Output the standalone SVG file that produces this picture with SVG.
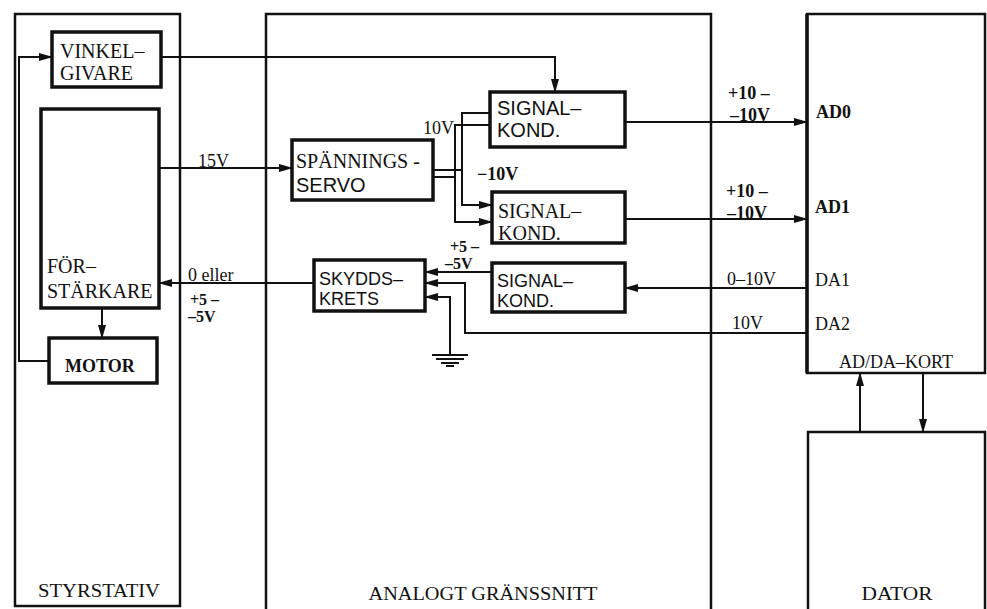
<svg xmlns="http://www.w3.org/2000/svg" width="987" height="609" viewBox="0 0 987 609">
<style>
.frame{fill:none;stroke:#111;stroke-width:2.5}
.box{fill:#fff;stroke:#111;stroke-width:3.5}
.con{fill:none;stroke:#111;stroke-width:2}
.arr{marker-end:url(#ah)}
.serif{font-family:"Liberation Serif","Times New Roman",serif;fill:#111}
.sans{font-family:"Liberation Sans",Arial,sans-serif;fill:#111}
.t20{font-size:20px}
.t18{font-size:18px}
.t16{font-size:16px}
.b{font-weight:bold}
</style>
<defs>
<marker id="ah" markerWidth="14" markerHeight="10" refX="13" refY="5" orient="auto" markerUnits="userSpaceOnUse">
<path d="M0,1 L14,5 L0,9 Z" fill="#111"/>
</marker>
</defs>
<rect x="0" y="0" width="987" height="609" fill="#fff"/>

<g id="styrstativ">
<rect class="frame" x="15" y="14" width="165" height="592"/>
<text class="serif" x="99" y="597" font-size="19" text-anchor="middle" textLength="122" lengthAdjust="spacingAndGlyphs">STYRSTATIV</text>
</g>
<g id="analogt">
<path class="frame" d="M266,609 V14 H711 V609"/>
<text class="serif" x="483" y="600" font-size="19" text-anchor="middle" textLength="229" lengthAdjust="spacingAndGlyphs">ANALOGT GRÄNSSNITT</text>
</g>
<g id="adda">
<rect class="frame" x="807" y="14" width="178" height="359"/>
<line x1="807" y1="14" x2="807" y2="373" stroke="#111" stroke-width="3.5"/>
<text class="serif t18" x="896" y="368" text-anchor="middle">AD/DA–KORT</text>
<text class="serif t18 b" x="816" y="118">AD0</text>
<text class="serif t18 b" x="815" y="213">AD1</text>
<text class="serif t18" x="815" y="286">DA1</text>
<text class="serif t18" x="815" y="330">DA2</text>
</g>
<g id="dator">
<path class="frame" d="M808,609 V432 H985 V609"/>
<text class="serif" x="897" y="600" font-size="19" text-anchor="middle" textLength="71" lengthAdjust="spacingAndGlyphs">DATOR</text>
</g>

<g id="vinkelgivare">
<rect class="box" x="52" y="32" width="109" height="55"/>
<text class="serif t20" x="60" y="58">VINKEL–</text>
<text class="serif t20" x="60" y="80">GIVARE</text>
</g>
<g id="forstarkare">
<rect class="box" x="41" y="109" width="118" height="199"/>
<text class="serif t20" x="47" y="273">FÖR–</text>
<text class="serif t20" x="47" y="298">STÄRKARE</text>
</g>
<g id="motor">
<rect class="box" x="49" y="338" width="108" height="45"/>
<text class="serif b" font-size="18" x="65" y="372">MOTOR</text>
</g>
<g id="spanningsservo">
<rect class="box" x="292" y="140" width="141" height="60"/>
<text class="serif t20" x="296" y="168">SPÄNNINGS -</text>
<text class="sans t20" x="296" y="192">SERVO</text>
</g>
<g id="signalkond1">
<rect class="box" x="490" y="92" width="135" height="55"/>
<text class="sans t20" x="497" y="115">SIGNAL–</text>
<text class="sans t20" x="497" y="137">KOND.</text>
</g>
<g id="signalkond2">
<rect class="box" x="492" y="192" width="133" height="51"/>
<text class="serif t20" x="498" y="218">SIGNAL–</text>
<text class="serif t20" x="498" y="240">KOND.</text>
</g>
<g id="signalkond3">
<rect class="box" x="492" y="263" width="133" height="49"/>
<text class="sans t18" x="497" y="287">SIGNAL–</text>
<text class="sans t18" x="497" y="307">KOND.</text>
</g>
<g id="skyddskrets">
<rect class="box" x="314" y="260" width="111" height="51"/>
<text class="sans t18" x="319" y="285">SKYDDS–</text>
<text class="sans t18" x="319" y="305">KRETS</text>
</g>
<g id="ground">
<line class="con" x1="432" y1="355" x2="468" y2="355" stroke-width="3"/>
<line class="con" x1="436" y1="359" x2="464" y2="359" stroke-width="3"/>
<line class="con" x1="441" y1="363" x2="459" y2="363" stroke-width="3"/>
<line class="con" x1="446" y1="366" x2="454" y2="366" stroke-width="2"/>
</g>

<g id="connectors">
<path class="con arr" d="M49,361 H19 V57 H52"/>
<path class="con arr" d="M161,57 H555 V92"/>
<path class="con arr" d="M102,308 V338"/>
<path class="con arr" d="M159,168 H292"/>
<path class="con" d="M433,170 H462"/>
<path class="con" d="M433,177 H455"/>
<path class="con arr" d="M490,113 H462 V205 H492"/>
<path class="con arr" d="M490,125 H455 V222 H492"/>
<path class="con" d="M462,113 H490"/>
<path class="con arr" d="M625,122 H807"/>
<path class="con arr" d="M625,219 H807"/>
<path class="con arr" d="M807,288 H625"/>
<path class="con arr" d="M807,333 H465 V283 H425"/>
<path class="con arr" d="M492,272 H425"/>
<path class="con arr" d="M450,355 V297 H425"/>
<path class="con arr" d="M314,283 H159"/>
<path class="con arr" d="M860,432 V373"/>
<path class="con arr" d="M923,373 V432"/>
</g>

<g id="labels">
<text class="serif t18" x="198" y="167">15V</text>
<text class="serif t18" x="423" y="134">10V</text>
<text class="serif t18 b" x="477" y="180">−10V</text>
<text class="serif t18" x="188" y="281">0 eller</text>
<text class="serif t16 b" x="190" y="305">+5 –</text>
<text class="serif t16 b" x="188" y="322">–5V</text>
<text class="serif t16 b" x="450" y="252">+5 –</text>
<text class="serif t16 b" x="445" y="269">–5V</text>
<text class="serif t18 b" x="728" y="99">+10 –</text>
<text class="serif t18 b" x="730" y="121">–10V</text>
<text class="serif t18 b" x="726" y="197">+10 –</text>
<text class="serif t18 b" x="727" y="219">–10V</text>
<text class="serif t18" x="727" y="285">0–10V</text>
<text class="serif t18" x="732" y="329">10V</text>
</g>
</svg>
